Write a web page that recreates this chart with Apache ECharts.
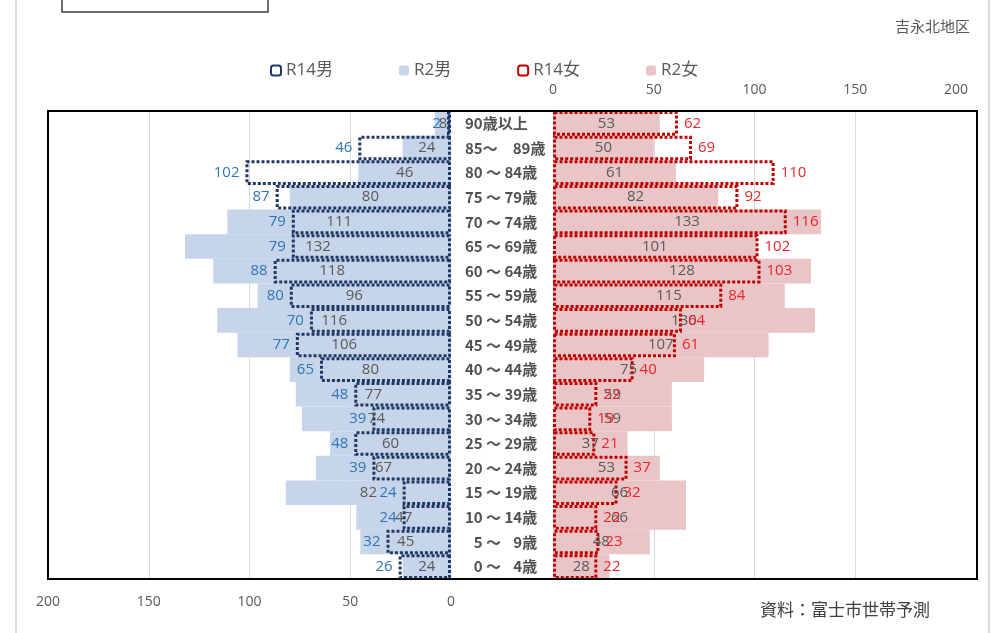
<!DOCTYPE html>
<html>
<head>
<meta charset="utf-8">
<script src="https://cdn.jsdelivr.net/npm/echarts@6/dist/echarts.min.js"></script>
<style>html,body{margin:0;padding:0;background:#fff;}#c{width:998px;height:633px;}</style>
</head>
<body>
<div id="c"></div>
<script>
// Age groups, top to bottom
const ageGroups = ['90歳以上','85～\u300089歳','80 ～ 84歳','75 ～ 79歳','70 ～ 74歳','65 ～ 69歳','60 ～ 64歳','55 ～ 59歳','50 ～ 54歳','45 ～ 49歳','40 ～ 44歳','35 ～ 39歳','30 ～ 34歳','25 ～ 29歳','20 ～ 24歳','15 ～ 19歳','10 ～ 14歳','\u20075 ～ \u20079歳','\u20070 ～ \u20074歳'];
const maleR14   = [2, 46, 102, 87, 79, 79, 88, 80, 70, 77, 65, 48, 39, 48, 39, 24, 24, 32, 26];
const maleR2    = [8, 24, 46, 80, 111, 132, 118, 96, 116, 106, 80, 77, 74, 60, 67, 82, 47, 45, 24];
const femaleR14 = [62, 69, 110, 92, 116, 102, 103, 84, 64, 61, 40, 22, 19, 21, 37, 32, 22, 23, 22];
const femaleR2  = [53, 50, 61, 82, 133, 101, 128, 115, 130, 107, 75, 59, 59, 37, 53, 66, 66, 48, 28];
const axisTicks = [0, 50, 100, 150, 200];

const chart = echarts.init(document.getElementById('c'), null, {renderer: 'canvas'});
const txt = '#595959';
const FONT = '"Open Sans", "Noto Sans CJK JP", sans-serif';
const xBase = {
  type: 'value', min: axisTicks[0], max: axisTicks[axisTicks.length - 1], interval: axisTicks[1] - axisTicks[0],
  axisLine: {show: false}, axisTick: {show: false},
  splitLine: {show: true, showMinLine: false, showMaxLine: false, lineStyle: {color: '#d9d9d9', width: 1}},
  axisLabel: {color: txt, fontSize: 14, fontFamily: FONT}
};
const option = {
  animation: false,
  backgroundColor: '#fff',
  textStyle: {fontFamily: FONT},
  legend: {
    left: 265, top: 57, itemGap: 66, itemWidth: 10, itemHeight: 10,
    textStyle: {color: txt, fontSize: 17, fontFamily: FONT},
    data: ['R14男', 'R2男', 'R14女', 'R2女']
  },
  grid: [
    {left: 48, width: 403, top: 111, height: 468},
    {left: 553, width: 403, top: 111, height: 468}
  ],
  xAxis: [
    Object.assign({}, xBase, {gridIndex: 0, inverse: true, position: 'bottom', axisLabel: Object.assign({}, xBase.axisLabel, {margin: 16})}),
    Object.assign({}, xBase, {gridIndex: 1, position: 'top', axisLabel: Object.assign({}, xBase.axisLabel, {margin: 14})})
  ],
  yAxis: [
    {type: 'category', gridIndex: 0, inverse: true, data: ageGroups, show: false},
    {type: 'category', gridIndex: 1, inverse: true, data: ageGroups,
     axisLine: {show: false}, axisTick: {show: false},
     axisLabel: {show: true, align: 'left', margin: 88, color: '#505050', fontSize: 15, fontWeight: 'bold', fontFamily: '"Noto Sans CJK JP", sans-serif'}}
  ],
  series: [
    {name: 'R2男', type: 'bar', xAxisIndex: 0, yAxisIndex: 0, data: maleR2, barWidth: '100%', barGap: '-100%',
     itemStyle: {color: '#c6d5ea'},
     label: {show: true, position: 'inside', color: txt, fontSize: 15}},
    {name: 'R14男', type: 'bar', xAxisIndex: 0, yAxisIndex: 0, data: maleR14, barWidth: '100%', barGap: '-100%',
     itemStyle: {color: 'rgba(0,0,0,0)', borderColor: '#1f3864', borderWidth: 3, borderType: [3, 2]},
     label: {show: true, position: 'left', distance: 6, color: '#2e75b6', fontSize: 15}},
    {name: 'R2女', type: 'bar', xAxisIndex: 1, yAxisIndex: 1, data: femaleR2, barWidth: '100%', barGap: '-100%',
     itemStyle: {color: '#eac5c7'},
     label: {show: true, position: 'inside', color: txt, fontSize: 15}},
    {name: 'R14女', type: 'bar', xAxisIndex: 1, yAxisIndex: 1, data: femaleR14, barWidth: '100%', barGap: '-100%',
     itemStyle: {color: 'rgba(0,0,0,0)', borderColor: '#c00000', borderWidth: 3, borderType: [3, 2]},
     label: {show: true, position: 'right', distance: 6, color: '#e8262b', fontSize: 15}}
  ],
  graphic: [
    {type: 'rect', shape: {x: 16, y: -2, width: 973, height: 645}, style: {fill: 'none', stroke: '#d9d9d9', lineWidth: 2}, z: 0, silent: true},
    {type: 'rect', shape: {x: 62, y: -2, width: 206, height: 14}, style: {fill: '#fff', stroke: '#404040', lineWidth: 1.5}, z: 10},
    {type: 'rect', shape: {x: 48, y: 111, width: 929, height: 468}, style: {fill: 'none', stroke: '#000', lineWidth: 2}, z: 100, silent: true},
    {type: 'text', right: 28, top: 19, style: {text: '吉永北地区', fill: txt, fontSize: 15, fontFamily: '"Noto Sans CJK JP", sans-serif'}},
    {type: 'text', left: 760, top: 601, style: {text: '資料：富士市世帯予測', fill: '#404040', fontSize: 17, fontFamily: '"Noto Sans CJK JP", sans-serif'}}
  ]
};
chart.setOption(option);
</script>
</body>
</html>
